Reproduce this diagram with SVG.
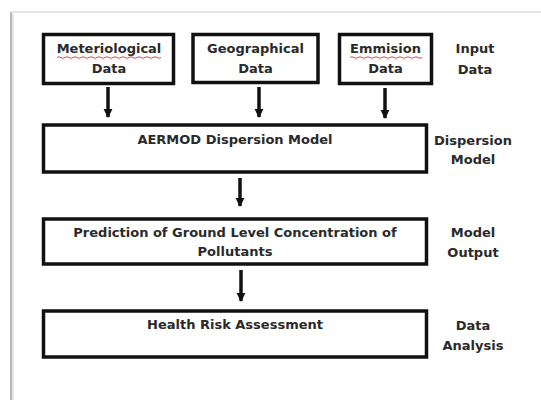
<svg xmlns="http://www.w3.org/2000/svg" width="541" height="400" viewBox="0 0 541 400">
<style>
.box{fill:#fff;stroke:#111;stroke-width:3.5}
.t{font-family:"DejaVu Sans","Liberation Sans",sans-serif;font-weight:bold;font-size:13px;fill:#2a2a2a;text-anchor:middle}
.shaft{stroke:#111;stroke-width:3.5}
.sq{fill:none;stroke:#e03030;stroke-width:0.9}
</style>
<defs>
<marker id="ah" viewBox="0 0 10 10" refX="9" refY="5" markerWidth="9" markerHeight="10" markerUnits="userSpaceOnUse" orient="auto">
<path d="M0,0 L10,5 L0,10 Z" fill="#111"/>
</marker>
</defs>
<rect x="0" y="0" width="541" height="400" fill="#fff"/>
<line x1="11" y1="12" x2="541" y2="12" stroke="#dcdcdc" stroke-width="1.5"/>
<line x1="11" y1="12" x2="11" y2="400" stroke="#b8b8b8" stroke-width="2"/>
<line x1="13" y1="14" x2="13" y2="400" stroke="#e6e6e6" stroke-width="2"/>
<g id="n-met">
<rect class="box" x="43.5" y="34.5" width="130" height="49"/>
<text class="t" x="109" y="53">Meteriological</text>
<text class="t" x="109" y="73">Data</text>
<path class="sq" d="M57,57.5 q2,-1.5 4,0 t4,0 t4,0 t4,0 t4,0 t4,0 t4,0 t4,0 t4,0 t4,0 t4,0 t4,0 t4,0 t4,0 t4,0 t4,0 t4,0 t4,0 t4,0 t4,0 t4,0 t4,0 t4,0 t4,0 t4,0 t4,0"/>
</g>
<g id="n-geo">
<rect class="box" x="193" y="34.5" width="125" height="48"/>
<text class="t" x="255.5" y="53">Geographical</text>
<text class="t" x="255.5" y="73">Data</text>
</g>
<g id="n-emi">
<rect class="box" x="339.5" y="34.5" width="92" height="49"/>
<text class="t" x="385.5" y="53">Emmision</text>
<text class="t" x="385.5" y="73">Data</text>
<path class="sq" d="M350,57.5 q2,-1.5 4,0 t4,0 t4,0 t4,0 t4,0 t4,0 t4,0 t4,0 t4,0 t4,0 t4,0 t4,0 t4,0 t4,0 t4,0 t4,0 t4,0 t4,0"/>
</g>
<g id="n-aermod">
<rect class="box" x="43.5" y="125" width="383" height="47"/>
<text class="t" x="235" y="144">AERMOD Dispersion Model</text>
</g>
<g id="n-pred">
<rect class="box" x="43.5" y="219" width="383" height="45"/>
<text class="t" x="235" y="237">Prediction of Ground Level Concentration of</text>
<text class="t" x="235" y="256">Pollutants</text>
</g>
<g id="n-health">
<rect class="box" x="43.5" y="311" width="383" height="46"/>
<text class="t" x="235" y="329">Health Risk Assessment</text>
</g>
<g id="labels">
<text class="t" x="475" y="53">Input</text>
<text class="t" x="475" y="74">Data</text>
<text class="t" x="473" y="145">Dispersion</text>
<text class="t" x="473" y="164">Model</text>
<text class="t" x="473" y="237">Model</text>
<text class="t" x="473" y="257">Output</text>
<text class="t" x="473" y="330">Data</text>
<text class="t" x="473" y="350">Analysis</text>
</g>
<g id="connectors">
<line class="shaft" x1="108" y1="87" x2="108" y2="117" marker-end="url(#ah)"/>
<line class="shaft" x1="259" y1="87" x2="259" y2="117" marker-end="url(#ah)"/>
<line class="shaft" x1="385" y1="88" x2="385" y2="118" marker-end="url(#ah)"/>
<line class="shaft" x1="240" y1="178" x2="240" y2="206" marker-end="url(#ah)"/>
<line class="shaft" x1="241" y1="270" x2="241" y2="301" marker-end="url(#ah)"/>
</g>
</svg>
